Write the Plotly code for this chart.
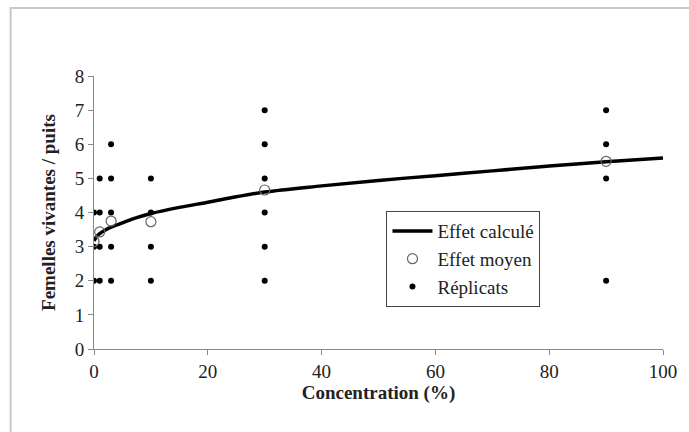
import plotly.graph_objects as go

# Fitted curve
curve_x = [0, 0.5, 1, 2, 3, 5, 7.5, 10, 15, 20, 25, 30, 40, 50, 60, 70, 80, 90, 100]
curve_y = [3.17, 3.3, 3.38, 3.49, 3.57, 3.7, 3.85, 3.97, 4.15, 4.3, 4.46, 4.6, 4.78, 4.94, 5.08, 5.22, 5.36, 5.49, 5.6]

# Mean effect per concentration
mean_x = [0, 1, 3, 10, 30, 90]
mean_y = [3.15, 3.43, 3.75, 3.73, 4.66, 5.5]

# Replicates
rep_x = [0, 0, 0,
         1, 1, 1, 1,
         3, 3, 3, 3, 3,
         10, 10, 10, 10,
         30, 30, 30, 30, 30, 30,
         90, 90, 90, 90]
rep_y = [2, 3, 4,
         2, 3, 4, 5,
         2, 3, 4, 5, 6,
         2, 3, 4, 5,
         2, 3, 4, 5, 6, 7,
         2, 5, 6, 7]

x_ticks = [0, 20, 40, 60, 80, 100]
y_ticks = [0, 1, 2, 3, 4, 5, 6, 7, 8]

FONT = "'Liberation Serif', 'Times New Roman', Times, serif"

fig = go.Figure()
fig.add_trace(go.Scatter(x=rep_x, y=rep_y, mode="markers", name="Réplicats",
                         marker=dict(color="black", size=6), legendrank=3))
fig.add_trace(go.Scatter(x=curve_x, y=curve_y, mode="lines", name="Effet calculé",
                         line=dict(color="black", width=3.5, shape="spline"), legendrank=1))
fig.add_trace(go.Scatter(x=mean_x, y=mean_y, mode="markers", name="Effet moyen",
                         marker=dict(symbol="circle-open", color="#666666", size=10,
                                     line=dict(width=1.2, color="#666666")), legendrank=2))

fig.update_layout(
    width=689, height=432,
    margin=dict(l=94, r=15, t=76, b=83),
    paper_bgcolor="white", plot_bgcolor="white",
    font=dict(family=FONT, size=19, color="#222222"),
    showlegend=True,
    legend=dict(x=0.514, y=0.505, xanchor="left", yanchor="top",
                bgcolor="white", bordercolor="#444444", borderwidth=1,
                font=dict(family=FONT, size=19, color="#222222"),
                itemwidth=40, tracegroupgap=7),
    shapes=[dict(type="rect", xref="paper", yref="paper",
                 x0=(9 - 94) / 580, x1=(720 - 94) / 580,
                 y0=(349 - 460) / 273, y1=(349 - 8) / 273,
                 line=dict(color="#c8c8c8", width=2), layer="below")],
)
fig.update_xaxes(range=[0, 100], tickvals=x_ticks, showgrid=False, zeroline=False,
                 showline=True, linecolor="#888888", linewidth=1,
                 ticks="outside", ticklen=5, tickcolor="#888888",
                 tickfont=dict(family=FONT, size=19, color="#222222"),
                 title=dict(text="<b>Concentration (%)</b>", standoff=4,
                            font=dict(family=FONT, size=19, color="#222222")))
fig.update_yaxes(range=[0, 8], tickvals=y_ticks, showgrid=False, zeroline=False,
                 showline=True, linecolor="#888888", linewidth=1,
                 ticks="outside", ticklen=5, tickcolor="#888888",
                 tickfont=dict(family=FONT, size=19, color="#222222"),
                 title=dict(text="<b>Femelles vivantes / puits</b>", standoff=14,
                            font=dict(family=FONT, size=19, color="#222222")))

fig.write_html("out.html")
